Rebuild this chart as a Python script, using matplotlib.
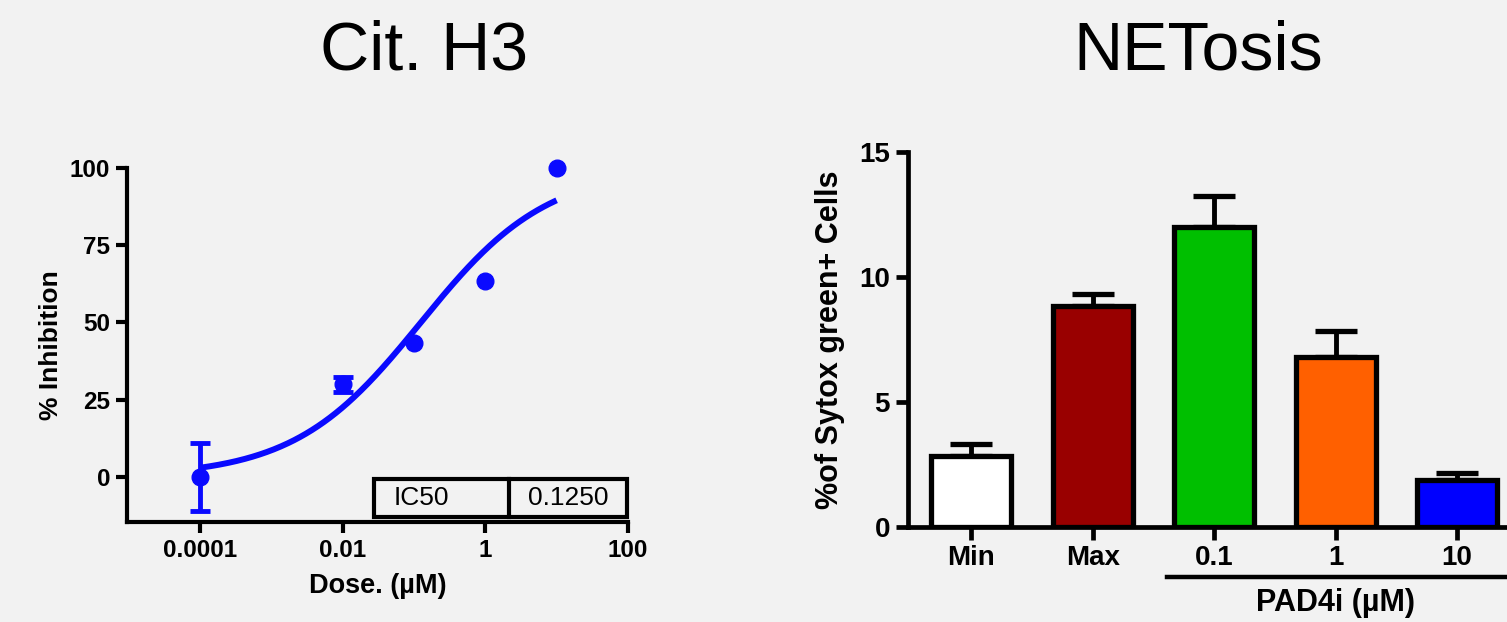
import numpy as np
import matplotlib
matplotlib.use("Agg")
import matplotlib.pyplot as plt
from matplotlib.patches import Rectangle
from matplotlib.lines import Line2D

plt.rcParams['font.family'] = ['Liberation Sans', 'DejaVu Sans']

# ---- Left panel data (Cit. H3 dose response) ----
doses = [1e-4, 0.01, 0.1, 1, 10]
inhibition = [0, 30, 43.5, 63.5, 100]
inhibition_err = [11, 2.5, 0, 0, 0]
ic50 = 0.125
hill = 0.49
top_val = 100
bottom_val = 0
x_ticks = [1e-4, 0.01, 1, 100]
x_ticklabels = ['0.0001', '0.01', '1', '100']
y_ticks_left = [0, 25, 50, 75, 100]

# ---- Right panel data (NETosis) ----
categories = ['Min', 'Max', '0.1', '1', '10']
means = [2.85, 8.84, 12.0, 6.8, 1.87]
errs = [0.47, 0.5, 1.26, 1.05, 0.29]
bar_colors = ['#ffffff', '#990000', '#00bf00', '#ff6000', '#0000ff']
y_ticks_right = [0, 5, 10, 15]

W, H = 1507, 622
fig = plt.figure(figsize=(W / 100, H / 100), dpi=100)
bg = '#f2f2f2'
fig.patch.set_facecolor(bg)

def fx(px):
    return px / W

def fy(py):
    return 1 - py / H

blue = '#0a0aff'

# ---------------- Left axes ----------------
axL = fig.add_axes([fx(127), fy(522), fx(628 - 127), fy(168) - fy(522)])
axL.set_facecolor(bg)
axL.set_xscale('log')
axL.set_xlim(10 ** -5.02, 100)
axL.set_ylim(-14.6, 100)

xc = np.logspace(-4, 1, 300)
yc = bottom_val + (top_val - bottom_val) / (1 + (ic50 / xc) ** hill)
axL.plot(xc, yc, color=blue, lw=4.3, solid_capstyle='butt', zorder=3)
axL.plot(doses, inhibition, 'o', color=blue, ms=12, zorder=4, clip_on=False)
d_arr = np.array(doses)
i_arr = np.array(inhibition)
e_arr = np.array(inhibition_err)
has_err = e_arr > 0
axL.errorbar(d_arr[has_err], i_arr[has_err], yerr=e_arr[has_err], fmt='none',
             ecolor=blue, capsize=7, capthick=3.5, elinewidth=3.5, zorder=4,
             clip_on=False)

for s in ['top', 'right']:
    axL.spines[s].set_visible(False)
for s in ['left', 'bottom']:
    axL.spines[s].set_linewidth(3)
axL.set_xticks(x_ticks)
axL.set_xticklabels(x_ticklabels)
axL.xaxis.set_minor_locator(matplotlib.ticker.NullLocator())
axL.set_yticks(y_ticks_left)
axL.tick_params(axis='both', width=3, length=8, labelsize=17.5, pad=4)
for lab in axL.get_xticklabels() + axL.get_yticklabels():
    lab.set_fontweight('bold')
axL.set_xlabel('Dose. (µM)', fontsize=19.5, fontweight='bold', labelpad=8)
axL.set_ylabel('% Inhibition', fontsize=19, fontweight='bold', labelpad=5)

# IC50 box
bx0, bx1, bdiv, by0, by1 = 374, 627, 509, 479, 517
fig.add_artist(Rectangle((fx(bx0), fy(by1)), fx(bx1 - bx0), fy(by0) - fy(by1),
                         transform=fig.transFigure, fill=False, lw=3,
                         edgecolor='black', zorder=5))
fig.add_artist(Line2D([fx(bdiv), fx(bdiv)], [fy(by0), fy(by1)],
                      transform=fig.transFigure, color='black', lw=3))
fig.text(fx(421), fy(498), 'IC50', fontsize=19, ha='center', va='center')
fig.text(fx(568), fy(498), f'{ic50:.4f}', fontsize=19, ha='center', va='center')

fig.text(fx(424), fy(51), 'Cit. H3', fontsize=49, ha='center', va='center')

# ---------------- Right axes ----------------
axR = fig.add_axes([fx(908), fy(527), 1 - fx(908), fy(152) - fy(527)])
axR.set_facecolor(bg)
xpos = np.arange(len(categories))
axR.set_xlim(-0.52, 4.41)
axR.set_ylim(0, 15)
axR.errorbar(xpos, means, yerr=[np.zeros(len(errs)), errs], fmt='none',
             ecolor='black', elinewidth=3.5, capsize=15, capthick=3.8, zorder=1)
axR.bar(xpos, means, width=0.66, color=bar_colors, edgecolor='black',
        linewidth=3.8, zorder=2)
for s in ['top', 'right']:
    axR.spines[s].set_visible(False)
for s in ['left', 'bottom']:
    axR.spines[s].set_linewidth(3.4)
axR.set_xticks(xpos)
axR.set_xticklabels(categories)
axR.set_yticks(y_ticks_right)
axR.tick_params(axis='both', width=3.4, length=9, labelsize=20, pad=4)
for lab in axR.get_xticklabels() + axR.get_yticklabels():
    lab.set_fontweight('bold')
axR.set_ylabel('%of Sytox green+ Cells', fontsize=22, fontweight='bold', labelpad=10)

fig.add_artist(Line2D([fx(1167), 1.0], [fy(577), fy(577)],
                      transform=fig.transFigure, color='black', lw=3.2))
fig.text(fx(1336), fy(603), 'PAD4i (µM)', fontsize=22, fontweight='bold',
         ha='center', va='center')

fig.text(fx(1198), fy(51), 'NETosis', fontsize=49, ha='center', va='center')

fig.savefig('out.png', dpi=100, facecolor=bg)
